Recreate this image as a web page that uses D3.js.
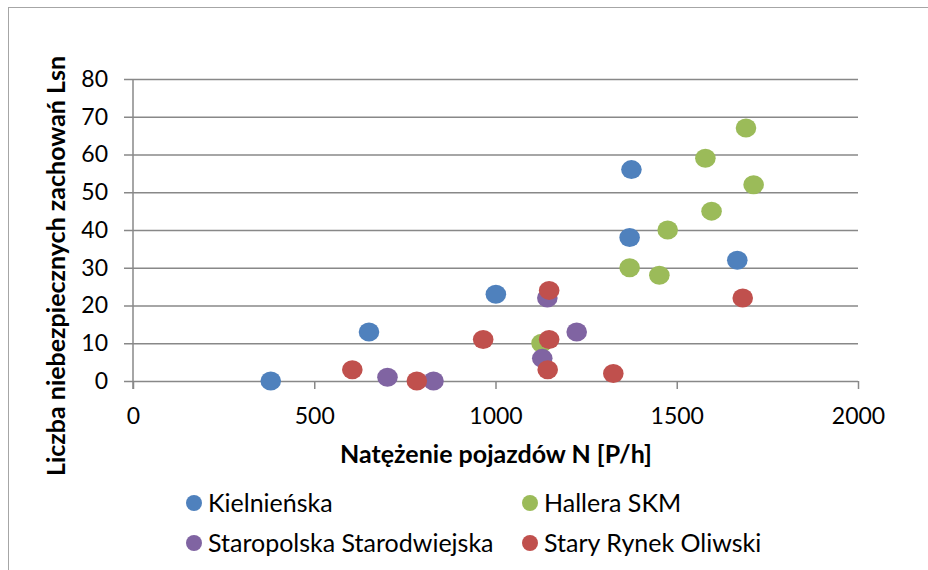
<!DOCTYPE html>
<html>
<head>
<meta charset="utf-8">
<script src="https://cdn.jsdelivr.net/npm/d3@7"></script>
<style>
  body { margin: 0; background: #fff; }
  svg { font-family: Lato, "Open Sans", sans-serif; }
</style>
</head>
<body>
<div id="chart"></div>
<script>
// series data: [N, Lsn]
const kielnienska = [[380, 0], [651, 13], [1001, 23], [1375, 56], [1370, 38], [1667, 32]];
const hallera = [[1691, 67], [1579, 59], [1712, 52], [1596, 45], [1475, 40], [1370, 30], [1452, 28], [1127, 10]];
const staropolska = [[702, 1], [829, 0], [1143, 22], [1224, 13], [1129, 6]];
const staryRynek = [[605, 3], [783, 0], [966, 11], [1148, 24], [1682, 22], [1148, 11], [1144, 3], [1325, 2]];

const seriesNames = ["Kielnieńska", "Hallera SKM", "Staropolska Starodwiejska", "Stary Rynek Oliwski"];
const seriesColors = ["#4F81BD", "#9BBB59", "#8064A2", "#C0504D"];
const xTicks = [0, 500, 1000, 1500, 2000];
const yTicks = [0, 10, 20, 30, 40, 50, 60, 70, 80];

const series = [kielnienska, hallera, staropolska, staryRynek];

const width = 928, height = 570;
const plot = {left: 133, right: 858, top: 79, bottom: 381};

const svg = d3.select("#chart").append("svg")
    .attr("width", width)
    .attr("height", height);

// outer chart border
svg.append("rect")
    .attr("x", 8.5).attr("y", 7.5)
    .attr("width", 940).attr("height", 580)
    .attr("fill", "none")
    .attr("stroke", "#a6a6a6")
    .attr("stroke-width", 1);

const x = d3.scaleLinear().domain([0, 2000]).range([plot.left, plot.right]);
const y = d3.scaleLinear().domain([0, 80]).range([plot.bottom, plot.top]);

// horizontal gridlines + y axis
const yAxis = svg.append("g")
    .attr("transform", `translate(${plot.left},0)`)
    .call(d3.axisLeft(y).tickValues(yTicks).tickFormat(d3.format("d")).tickSize(9).tickPadding(16))
    .attr("font-family", null)
    .call(g => g.select(".domain").remove());
yAxis.selectAll(".tick line").attr("stroke", "#888").attr("stroke-width", 1.5)
    .attr("x2", -9).attr("x1", plot.right - plot.left);
yAxis.selectAll(".tick text")
    .attr("fill", "#000")
    .style("font-size", "23px");

svg.append("line")
    .attr("x1", plot.left).attr("x2", plot.left)
    .attr("y1", plot.top).attr("y2", plot.bottom + 8)
    .attr("stroke", "#888").attr("stroke-width", 1.5);

// x axis ticks only, the 0 gridline is the baseline
const xAxis = svg.append("g")
    .attr("transform", `translate(0,${plot.bottom})`)
    .call(d3.axisBottom(x).tickValues(xTicks).tickFormat(d3.format("d")).tickSize(8).tickPadding(19))
    .attr("font-family", null)
    .call(g => g.select(".domain").remove());
xAxis.selectAll(".tick line").attr("stroke", "#888").attr("stroke-width", 1.5);
xAxis.selectAll(".tick text")
    .attr("fill", "#000")
    .style("font-size", "23px");

// axis titles
svg.append("text")
    .attr("x", 496).attr("y", 463)
    .attr("text-anchor", "middle")
    .style("font-size", "25px")
    .style("font-weight", "bold")
    .text("Natężenie pojazdów N [P/h]");

svg.append("text")
    .attr("transform", "translate(65,266) rotate(-90)")
    .attr("text-anchor", "middle")
    .style("font-size", "25px")
    .style("font-weight", "bold")
    .text("Liczba niebezpiecznych zachowań Lsn");

// points, series drawn in order so later ones sit on top
series.forEach((data, i) => {
    svg.append("g").selectAll("ellipse")
        .data(data)
        .enter()
        .append("ellipse")
        .attr("cx", d => x(d[0]))
        .attr("cy", d => y(d[1]))
        .attr("rx", 10.3)
        .attr("ry", 9.5)
        .attr("fill", seriesColors[i]);
});

// legend, two columns
const legendPos = [[194, 503], [530, 503], [194, 543], [530, 543]];
const legend = svg.append("g").selectAll("g")
    .data(seriesNames)
    .enter()
    .append("g")
    .attr("transform", (d, i) => `translate(${legendPos[i][0]},${legendPos[i][1]})`);
legend.append("ellipse")
    .attr("rx", 8).attr("ry", 8)
    .attr("fill", (d, i) => seriesColors[i]);
legend.append("text")
    .attr("x", 14).attr("dy", "0.36em")
    .style("font-size", "25px")
    .text(d => d);
</script>
</body>
</html>
